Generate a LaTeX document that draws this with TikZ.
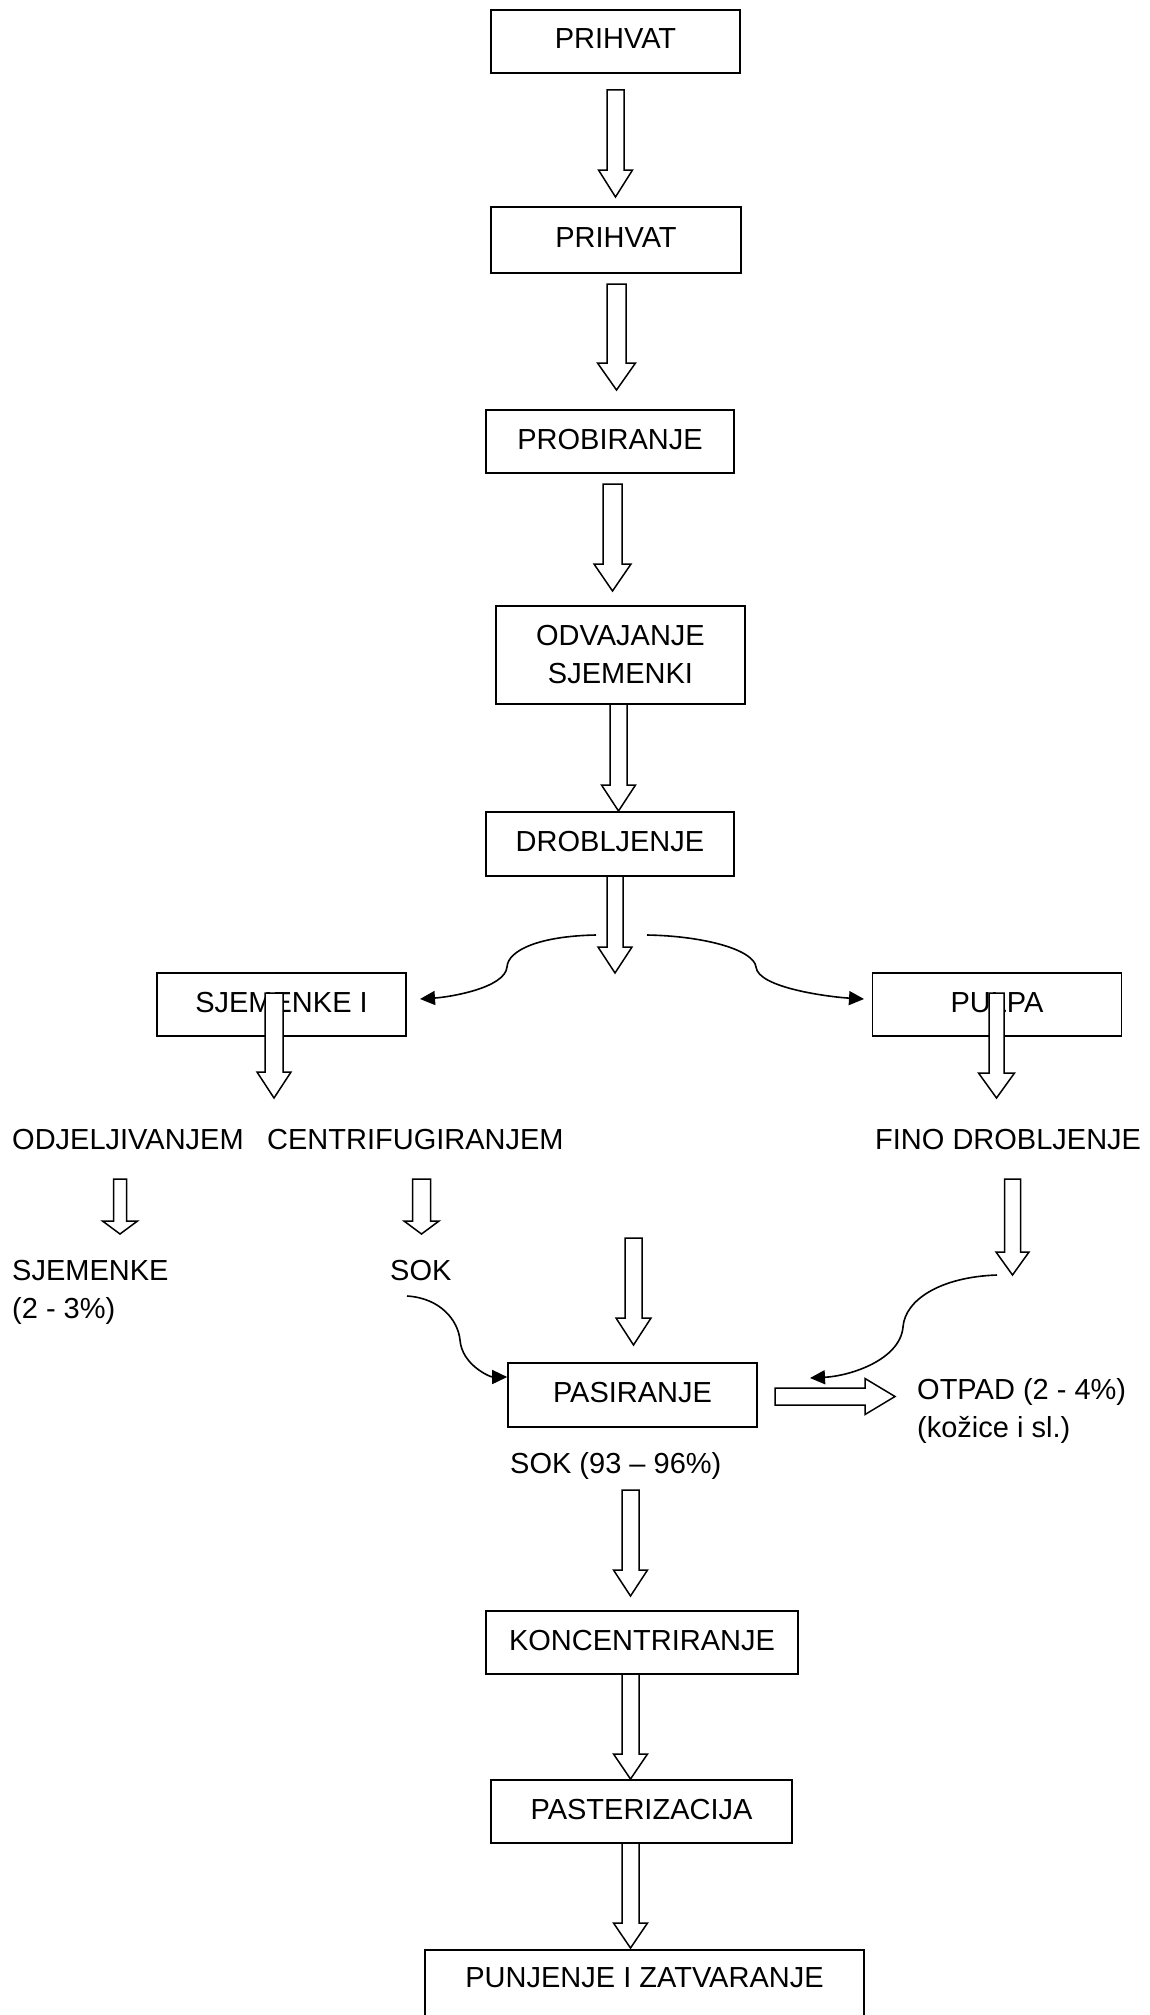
\documentclass[tikz,border=0pt]{standalone}
\usepackage{fontspec}
\setmainfont{Liberation Sans}
\usetikzlibrary{arrows.meta}
\newcommand{\BlkDown}[6]{\draw[blk] ({#1-#5},#2) -- ({#1+#5},#2) -- ({#1+#5},#3) -- ({#1+#6},#3) -- (#1,#4) -- ({#1-#6},#3) -- ({#1-#5},#3) -- cycle;}
\newcommand{\BlkRight}[6]{\draw[blk] (#1,{#2-#5}) -- (#3,{#2-#5}) -- (#3,{#2-#6}) -- (#4,#2) -- (#3,{#2+#6}) -- (#3,{#2+#5}) -- (#1,{#2+#5}) -- cycle;}
\begin{document}
\begin{tikzpicture}[x=1pt,y=-1pt,font=\fontsize{29}{38}\selectfont,
  box/.style 2 args={draw, line width=1.6pt, minimum width=#1pt, minimum height=#2pt, inner sep=2pt},
  capbox/.style={text height=21pt, text depth=6pt},
  blk/.style={draw, fill=white, line width=1.5pt, line join=miter},
  flow/.style={line width=1.6pt, -{Triangle[length=15pt,width=14pt]}},
  lbl/.style={anchor=base west, inner sep=0pt}]
\fill[white] (0,0) rectangle (1150,2015);
\clip (0,0) rectangle (1150,2015);

% boxes
\node[box={249}{63}, capbox] (b1) at (615.5,41.5) {PRIHVAT};
\node[box={250}{66}, capbox] (b2) at (616,240) {PRIHVAT};
\node[box={248}{63}, capbox] (b3) at (610,441.5) {PROBIRANJE};
\node[box={249}{98}, align=center] (b4) at (620.5,655) {ODVAJANJE\\SJEMENKI};
\node[box={248}{64}, capbox] (b5) at (610,844) {DROBLJENJE};
\node[box={249}{63}, capbox] (b6) at (281.5,1004.5) {SJEMENKE I};
\node[box={249}{63}, capbox] (b7) at (997,1004.5) {PULPA};
\node[box={249}{64}, capbox] (b8) at (632.5,1395) {PASIRANJE};
\node[box={312}{63}, capbox] (b9) at (642,1642.5) {KONCENTRIRANJE};
\node[box={301}{63}, capbox] (b10) at (641.5,1811.5) {PASTERIZACIJA};
\node[box={439}{120}, text height=21pt, text depth=66pt, anchor=north] (b11) at (644.5,1949) {PUNJENJE I ZATVARANJE};

% free texts
\node[lbl] (t1) at (12,1149) {ODJELJIVANJEM};
\node[lbl] (t2) at (267,1149) {CENTRIFUGIRANJEM};
\node[lbl] (t3) at (875,1149) {FINO DROBLJENJE};
\node[lbl] (t4) at (12,1280) {SJEMENKE};
\node[lbl] (t5) at (12,1318) {(2 - 3\%)};
\node[lbl] (t6) at (390,1280) {SOK};
\node[lbl] (t7) at (917,1399) {OTPAD (2 - 4\%)};
\node[lbl] (t8) at (917,1437) {(kožice i sl.)};
\node[lbl] (t9) at (510,1473) {SOK (93 – 96\%)};

% block arrows
\BlkDown{615.5}{90}{170}{197}{8.5}{17}
\BlkDown{616.5}{284}{363}{390}{9.5}{19}
\BlkDown{612.5}{484}{564}{591}{9.5}{18.5}
\BlkDown{618.5}{704}{785}{811}{8.5}{17}
\BlkDown{615}{876}{947}{973}{8}{17}
\BlkDown{274}{993}{1072}{1098}{9}{17}
\BlkDown{996.5}{993}{1073}{1098}{7.5}{18}
\BlkDown{120}{1179}{1221}{1234}{6.5}{17.5}
\BlkDown{421.5}{1179}{1221}{1234}{9}{17.5}
\BlkDown{633.5}{1238}{1318}{1345}{8.5}{17.5}
\BlkDown{1012.5}{1179}{1252}{1275}{8}{16.5}
\BlkDown{630.5}{1490}{1570}{1596}{8.5}{17}
\BlkDown{630.5}{1674}{1754}{1779}{8.5}{17}
\BlkDown{630.5}{1843}{1923}{1948}{8.5}{17}
\BlkRight{775}{1396.5}{865}{895}{8.5}{18}

% curved flow arrows
\coordinate (dl) at (596,935);
\coordinate (dr) at (647,935);
\coordinate (tl) at (420,999);
\coordinate (tr) at (864,999);
\coordinate (sokc) at (407,1296);
\coordinate (finoc) at (997,1275);
\coordinate (pasr) at (810,1378);
\draw[flow] (dl) .. controls (540,936) and (508,950) .. (507,967) .. controls (505,988) and (450,997) .. (tl);
\draw[flow] (dr) .. controls (705,936) and (754,950) .. (756,967) .. controls (758,988) and (830,997) .. (tr);
\draw[flow] (sokc) .. controls (440,1298) and (458,1320) .. (460,1340) .. controls (462,1365) and (490,1377) .. ([yshift=18pt]b8.west);
\draw[flow] (finoc) .. controls (940,1277) and (905,1300) .. (903,1327) .. controls (900,1360) and (850,1376) .. (pasr);
\end{tikzpicture}
\end{document}
